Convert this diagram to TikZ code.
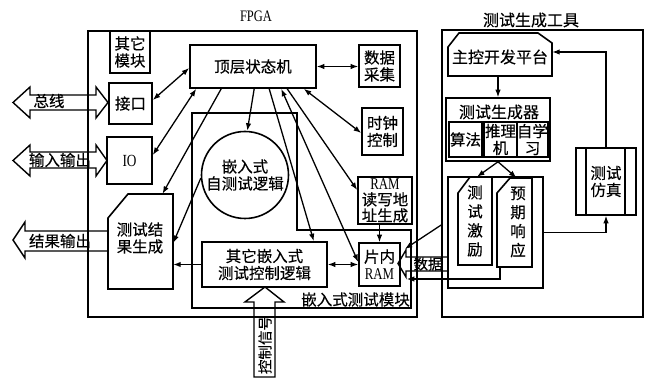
\documentclass[tikz,border=0pt]{standalone}
\usepackage{fontspec}
\setmainfont{Liberation Serif}
\newfontfamily\cjk[FakeBold=0.3]{Noto Sans CJK SC}
\newfontfamily\condserif[FakeStretch=0.78]{Liberation Serif}
\usetikzlibrary{arrows.meta,calc}
\begin{document}
\begin{tikzpicture}[x=1pt,y=-1pt,
  lw/.style={line width=1.6pt},
  box/.style={draw,line width=1.6pt,inner sep=0pt,align=center,font=\cjk\fontsize{15.5}{17}\selectfont},
  txt/.style={inner sep=0pt,align=center,font=\cjk\fontsize{15.5}{17}\selectfont},
  arr/.style={line width=1.3pt,-{Latex[length=7.5pt,width=5.5pt]}},
  darr/.style={line width=1.3pt,{Latex[length=7.5pt,width=5.5pt]}-{Latex[length=7.5pt,width=5.5pt]}},
  blk/.style={line width=1.4pt,line join=miter}
]
\useasboundingbox (0,0) rectangle (649,379);
\fill[white] (0,0) rectangle (649,379);

% ---------------- FPGA side ----------------
\node[box,minimum width=329pt,minimum height=286pt] (fpga) at (252.5,174) {};
\node[inner sep=0pt,font=\condserif\fontsize{16}{17}\selectfont] (fpgalbl) at (256,16) {FPGA};

\node[box,minimum width=40pt,minimum height=42pt] (other) at (130,52) {其它\\模块};
\node[box,minimum width=43pt,minimum height=41pt] (iface) at (130.5,103.5) {接口};
\node[box,minimum width=45pt,minimum height=47pt,font=\condserif\fontsize{17}{18}\selectfont] (io) at (129.5,160.5) {IO};

% test result generation (chamfered)
\draw[lw] (128,194) -- (173,194) -- (173,289) -- (108,289) -- (108,218) -- cycle;
\node[inner sep=0pt,minimum width=65pt,minimum height=95pt] (res) at (140.5,241.5) {};
\node[txt] (reslbl) at (140,238) {测试结\\果生成};

\node[box,minimum width=126pt,minimum height=43pt] (top) at (253,66.5) {顶层状态机};
\node[box,minimum width=41pt,minimum height=42pt] (daq) at (379.5,66) {数据\\采集};
\node[box,minimum width=41pt,minimum height=47pt] (clk) at (382.5,131.5) {时钟\\控制};
\node[box,minimum width=54pt,minimum height=47pt,font=\cjk\fontsize{15.5}{16}\selectfont] (ramaddr) at (385,200.5)
  {{\condserif\fontsize{16.5}{14}\selectfont RAM}\\读写地\\址生成};

% embedded test module
\draw[lw] (192,308) -- (192,113) -- (297,113) -- (297,230) -- (411,230) -- (411,308) -- cycle;
\node[txt,anchor=east] (emblbl) at (410,299.5) {嵌入式测试模块};

\node[box,circle,minimum size=87pt] (bist) at (245,175) {嵌入式\\自测试逻辑};
\node[box,minimum width=125pt,minimum height=45pt] (ctrl) at (264.5,264.5) {其它嵌入式\\测试控制逻辑};
\node[box,minimum width=41pt,minimum height=43pt] (ram) at (379.5,264.5) {片内\\{\condserif\fontsize{16.5}{14}\selectfont RAM}};

% block arrows on the left
\draw[blk] (13,102.5) -- (30,87) -- (30,95) -- (96,95) -- (96,87) -- (108,102.5) -- (96,118) -- (96,110) -- (30,110) -- (30,118) -- cycle;
\node[txt] (buslbl) at (49,101) {总线};
\draw[blk] (13,160.5) -- (30,145) -- (30,152) -- (96,152) -- (96,145) -- (107,160.5) -- (96,176) -- (96,168) -- (30,168) -- (30,176) -- cycle;
\node[txt] (iolbl) at (60,160) {输入输出};
\draw[blk] (108,231) -- (25,231) -- (25,222) -- (13,240) -- (25,258) -- (25,251) -- (108,251);
\node[txt] (outlbl) at (60,241) {结果输出};
\draw[blk] (265,287) -- (284,302) -- (275,302) -- (275,377) -- (254,377) -- (254,302) -- (245,302) -- cycle;
\node[txt,rotate=90,font=\cjk\fontsize{14.5}{16}\selectfont] (ctlsig) at (265,345) {控制信号};

% connectors on the FPGA side
\draw[darr] ([yshift=-1.5pt]top.west) -- ([yshift=3.5pt]iface.east);
\draw[darr] ([xshift=7pt]top.south west) -- ([yshift=5.5pt]io.east);
\draw[arr] ([xshift=32pt]top.south west) -- ([xshift=22pt]res.north);
\draw[arr] ([xshift=65pt]top.south west) -- (bist.87);
\draw[arr] ([xshift=80pt]top.south west) -- ([xshift=-14pt]ctrl.north east);
\draw[darr] ([xshift=92pt]top.south west) -- ([yshift=2.5pt]ram.west);
\draw[arr] ([xshift=98pt]top.south west) -- ([yshift=10.5pt]ramaddr.west);
\draw[darr] ([xshift=-13pt]top.south east) -- ([yshift=-1.5pt]clk.west);
\draw[darr] (top.east) -- (top.east -| daq.west);
\draw[arr] (bist.184) -- ([yshift=-1.5pt]res.east);
\draw[arr] (ctrl.west) -- (ctrl.west -| res.east);
\draw[darr] (ctrl.east) -- (ram.west);
\draw[arr] (ram.north |- ramaddr.south) -- (ram.north);

% ---------------- test generation tool ----------------
\node[box,minimum width=201pt,minimum height=287pt] (tool) at (542.5,173.5) {};
\node[txt,font=\cjk\fontsize{16}{17}\selectfont] (toollbl) at (531,20) {测试生成工具};

\draw[lw] (459,33) -- (538,33) -- (552,43) -- (552,76) -- (448,76) -- (448,47) -- cycle;
\node[inner sep=0pt,minimum width=104pt,minimum height=43pt] (host) at (500,54.5) {};
\node[txt,font=\cjk\fontsize{16}{17}\selectfont] (hostlbl) at (500,57) {主控开发平台};

\node[box,minimum width=104pt,minimum height=63pt] (gen) at (498,129.5) {};
\node[txt,font=\cjk\fontsize{16}{17}\selectfont] (genlbl) at (499,112) {测试生成器};
\node[box,minimum width=33pt,minimum height=35pt] (alg) at (465.5,139.5) {算法};
\node[box,minimum width=33pt,minimum height=35pt] (inf) at (500.5,139.5) {推理\\机};
\node[box,minimum width=31pt,minimum height=35pt] (learn) at (532.5,139.5) {自学\\习};

\node[box,minimum width=95pt,minimum height=111pt] (grp) at (495.5,232.5) {};
\draw[lw] (470,177) -- (492,177) -- (492,265) -- (458,265) -- (458,193) -- cycle;
\node[inner sep=0pt,minimum width=34pt,minimum height=88pt] (stim) at (475,221) {};
\node[txt,font=\cjk\fontsize{15.5}{19}\selectfont] (stimlbl) at (475,221) {测\\试\\激\\励};
\draw[lw] (510,178) -- (532,178) -- (532,267) -- (497,267) -- (497,193) -- cycle;
\node[inner sep=0pt,minimum width=35pt,minimum height=89pt] (resp) at (514.5,222.5) {};
\node[txt,font=\cjk\fontsize{15.5}{19}\selectfont] (resplbl) at (518,222) {预\\期\\响\\应};

\node[box,minimum width=60pt,minimum height=67pt] (sim) at (606,181.5) {测试\\仿真};
\draw[lw] ([xshift=11pt]sim.north west) -- ([xshift=11pt]sim.south west);
\draw[lw] ([xshift=-12pt]sim.north east) -- ([xshift=-12pt]sim.south east);

% connectors on the tool side
\draw[arr] (gen.north |- host.south) -- (gen.north);
\draw[arr] (gen.south) -- ([xshift=2pt]stim.north);
\draw[arr] (gen.south) -- ([xshift=2pt]resp.north);
\draw[arr] (grp.east) -| (sim.south);
\draw[arr] (sim.north) |- ([yshift=2.5pt]host.east);

% data between tool and on-chip RAM
\draw[blk] (448,257) -- (406,257) -- (406,250) -- (398,263.5) -- (406,277) -- (406,271) -- (448,271);
\node[txt,font=\cjk\fontsize{14.5}{16}\selectfont] (datalbl) at (428,264) {数据};
\draw[arr] ([yshift=-51.5pt]tool.west) -- ([xshift=4pt,yshift=15.5pt]ram.east);
\draw[arr] ([xshift=-14.5pt]resp.south) |- ([xshift=6pt,yshift=-14.5pt]ram.east);
\end{tikzpicture}
\end{document}
